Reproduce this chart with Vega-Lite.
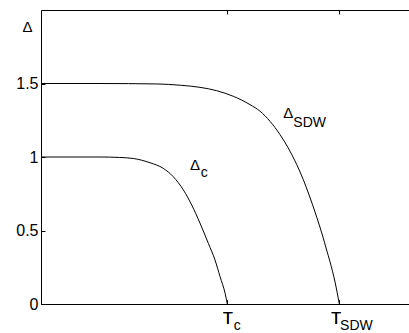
{
  "$schema": "https://vega.github.io/schema/vega-lite/v6.json",
  "width": 368,
  "height": 294,
  "autosize": {"type": "none"},
  "padding": {"left": 41, "top": 10, "right": 0, "bottom": 29},
  "background": "white",
  "config": {
    "view": {"stroke": null},
    "font": "Liberation Sans",
    "axis": {
      "grid": false,
      "domainColor": "black",
      "domainWidth": 1,
      "tickColor": "black",
      "tickWidth": 1,
      "labelColor": "black",
      "labelFont": "Liberation Sans",
      "labelFontSize": 16,
      "titleColor": "black",
      "titleFont": "Liberation Sans",
      "titleFontWeight": "normal"
    }
  },
  "datasets": {
    "curves": [
      {"series": "c", "t": 0, "delta": 1.0},
      {"series": "c", "t": 0.317, "delta": 1.0},
      {"series": "c", "t": 0.42, "delta": 0.997},
      {"series": "c", "t": 0.495, "delta": 0.99},
      {"series": "c", "t": 0.585, "delta": 0.961},
      {"series": "c", "t": 0.656, "delta": 0.923},
      {"series": "c", "t": 0.71, "delta": 0.866},
      {"series": "c", "t": 0.764, "delta": 0.776},
      {"series": "c", "t": 0.809, "delta": 0.673},
      {"series": "c", "t": 0.853, "delta": 0.551},
      {"series": "c", "t": 0.898, "delta": 0.413},
      {"series": "c", "t": 0.934, "delta": 0.299},
      {"series": "c", "t": 0.961, "delta": 0.186},
      {"series": "c", "t": 0.988, "delta": 0.073},
      {"series": "c", "t": 1.0, "delta": 0},
      {"series": "SDW", "t": 0, "delta": 1.5},
      {"series": "SDW", "t": 0.317, "delta": 1.5},
      {"series": "SDW", "t": 0.621, "delta": 1.497},
      {"series": "SDW", "t": 0.75, "delta": 1.488},
      {"series": "SDW", "t": 0.853, "delta": 1.474},
      {"series": "SDW", "t": 0.943, "delta": 1.451},
      {"series": "SDW", "t": 1.032, "delta": 1.413},
      {"series": "SDW", "t": 1.122, "delta": 1.356},
      {"series": "SDW", "t": 1.176, "delta": 1.311},
      {"series": "SDW", "t": 1.229, "delta": 1.243},
      {"series": "SDW", "t": 1.283, "delta": 1.152},
      {"series": "SDW", "t": 1.327, "delta": 1.061},
      {"series": "SDW", "t": 1.373, "delta": 0.947},
      {"series": "SDW", "t": 1.408, "delta": 0.845},
      {"series": "SDW", "t": 1.435, "delta": 0.755},
      {"series": "SDW", "t": 1.48, "delta": 0.59},
      {"series": "SDW", "t": 1.51, "delta": 0.47},
      {"series": "SDW", "t": 1.533, "delta": 0.367},
      {"series": "SDW", "t": 1.551, "delta": 0.288},
      {"series": "SDW", "t": 1.578, "delta": 0.15},
      {"series": "SDW", "t": 1.601, "delta": 0}
    ],
    "mainLabels": [
      {"text": "Δ", "t": 0.827, "delta": 0.912},
      {"text": "Δ", "t": 1.327, "delta": 1.267}
    ],
    "subLabels": [
      {"text": "c", "t": 0.857, "delta": 0.866},
      {"text": "SDW", "t": 1.354, "delta": 1.202},
      {"text": "c", "t": 1.035, "delta": -0.18},
      {"text": "SDW", "t": 1.605, "delta": -0.18}
    ]
  },
  "encoding": {
    "x": {
      "field": "t", "type": "quantitative",
      "scale": {"domain": [0, 1.975], "nice": false, "zero": false},
      "axis": {
        "orient": "bottom", "title": null, "values": [1, 1.601],
        "labelExpr": "'T'", "tickSize": -4, "labelPadding": 10,
        "labelOffset": {"condition": {"test": "datum.value > 1.2", "value": -3.6}, "value": 0}
      }
    },
    "y": {
      "field": "delta", "type": "quantitative",
      "scale": {"domain": [0, 2], "nice": false},
      "axis": {
        "values": [0, 0.5, 1, 1.5], "format": "~g", "tickSize": -4, "labelPadding": 7,
        "title": "Δ", "titleAngle": 0, "titleX": -14, "titleY": 16,
        "titleAlign": "center", "titleBaseline": "middle", "titleFontSize": 15
      }
    }
  },
  "layer": [
    {
      "data": {"name": "curves"},
      "mark": {"type": "line", "color": "black", "strokeWidth": 1, "interpolate": "monotone"},
      "encoding": {
        "detail": {"field": "series"}
      }
    },
    {
      "data": {"name": "mainLabels"},
      "mark": {"type": "text", "align": "center", "baseline": "alphabetic", "fontSize": 15, "color": "black"},
      "encoding": {
        "x": {
          "field": "t", "type": "quantitative",
          "axis": {"orient": "top", "title": null, "values": [1, 1.601], "labels": false, "tickSize": -4}
        },
        "text": {"field": "text"}
      }
    },
    {
      "data": {"name": "subLabels"},
      "mark": {"type": "text", "align": "left", "baseline": "alphabetic", "fontSize": 14, "color": "black"},
      "encoding": {
        "text": {"field": "text"}
      }
    }
  ]
}
